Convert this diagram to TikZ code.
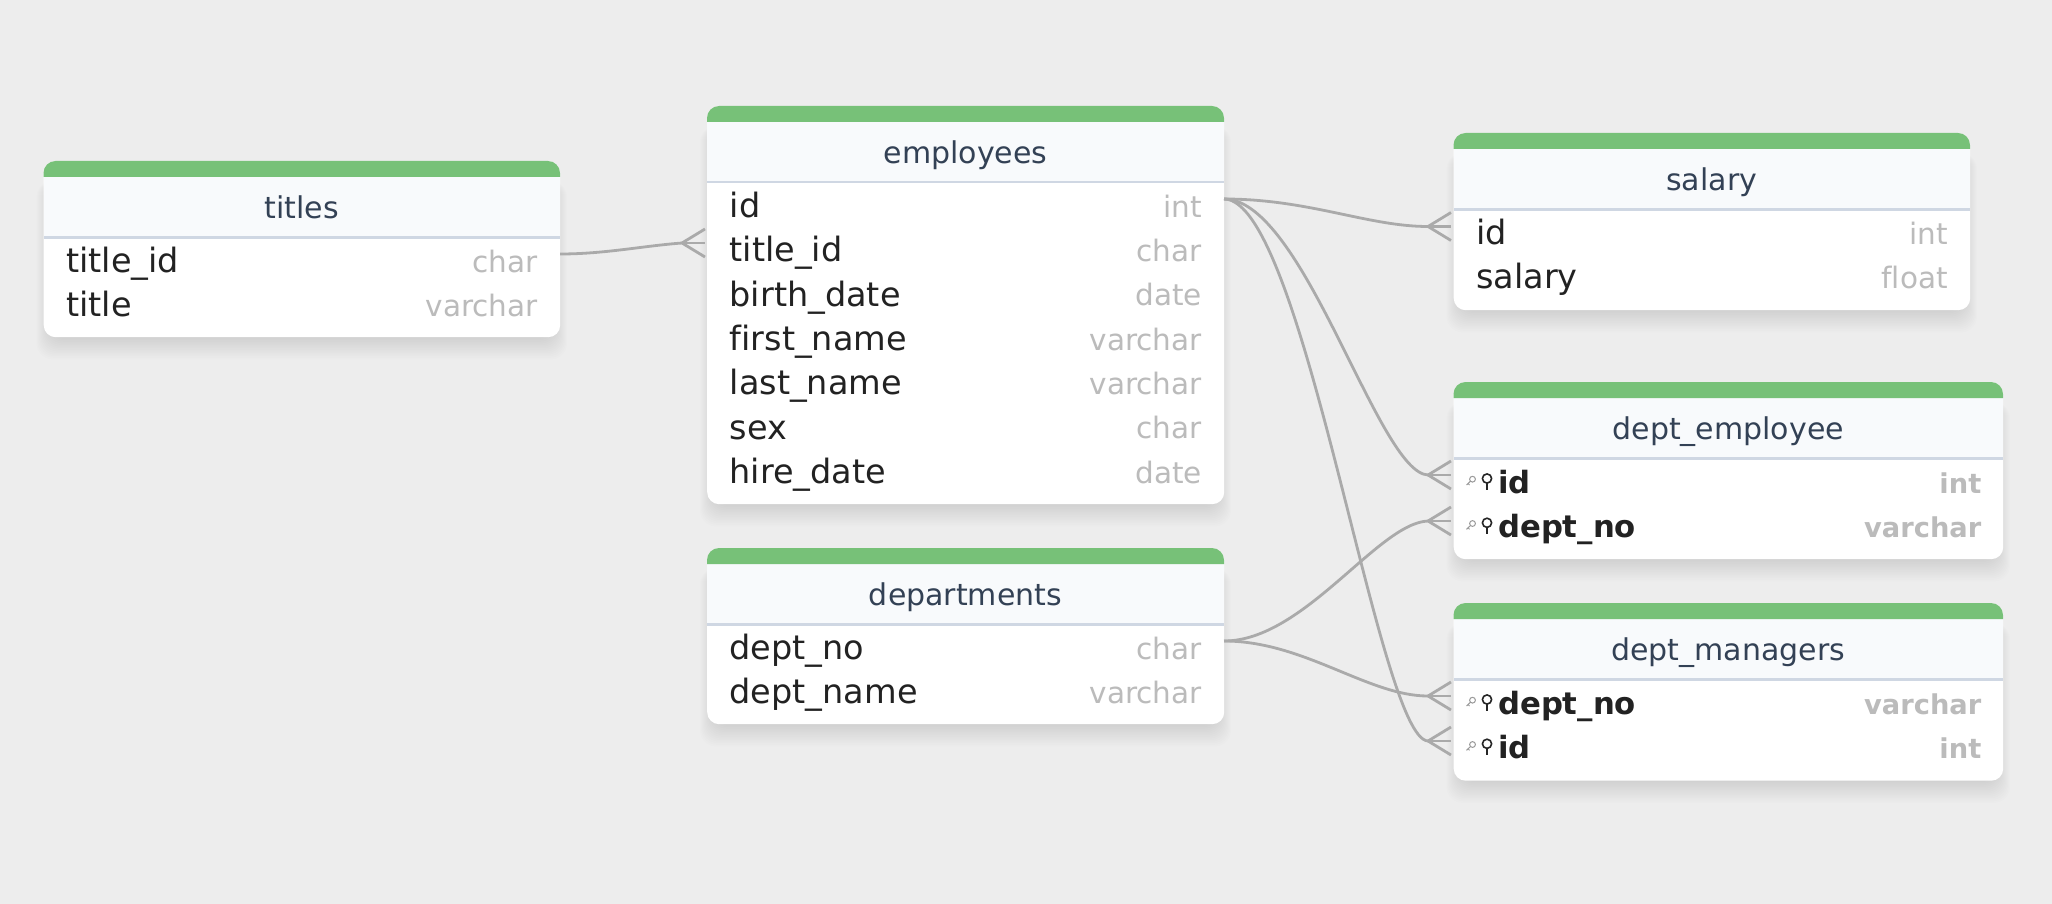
\documentclass[tikz,border=0pt]{standalone}
\usepackage{fontspec}
\setmainfont{DejaVu Sans}[Ligatures=NoCommon]
\definecolor{bgc}{HTML}{EDEDED}
\definecolor{barc}{HTML}{77C178}
\definecolor{headc}{HTML}{F8FAFC}
\definecolor{rulec}{HTML}{CFD7E3}
\definecolor{namec}{HTML}{334155}
\definecolor{fieldc}{HTML}{222222}
\definecolor{typec}{HTML}{BBBBBB}
\definecolor{linkc}{HTML}{AAAAAA}
\tikzset{
  tablebox/.style={fill=white,rounded corners=12pt,inner sep=0pt,anchor=north west},
  tabletitle/.style={font=\fontsize{30}{32}\selectfont,text=namec,anchor=base,inner sep=0pt},
  fieldname/.style={font=\fontsize{33.5}{36}\selectfont,text=fieldc,anchor=base west,inner sep=0pt},
  fieldtype/.style={font=\fontsize{29.5}{32}\selectfont,text=typec,anchor=base east,inner sep=0pt},
  keyname/.style={font=\fontsize{30.7}{36}\selectfont\bfseries,text=fieldc,anchor=base west,inner sep=0pt},
  keytype/.style={font=\fontsize{27.3}{32}\selectfont\bfseries,text=typec,anchor=base east,inner sep=0pt},
  link/.style={draw=linkc,line width=2.8pt},
  foot/.style={draw=linkc,line width=2.8pt},
}
% id, left, top, width, height, title
\newcommand{\dbtable}[6]{%
  \foreach \k in {1,...,14}{
    \fill[black,opacity=0.008,rounded corners=16pt]
      ({#2+7-\k},{#3+20}) rectangle ({#2+#4-7+\k},{#3+#5+1.6*\k});
  }
  \node[tablebox,minimum width=#4pt,minimum height=#5pt] (#1) at (#2,#3) {};
  \fill[headc] ({#2},{#3+16}) rectangle ({#2+#4},{#3+75});
  \fill[barc,rounded corners=12pt] ({#2},{#3+16}) -- ({#2},{#3}) -- ({#2+#4},{#3}) [sharp corners] -- ({#2+#4},{#3+16}) -- cycle;
  \fill[rulec] ({#2},{#3+75}) rectangle ({#2+#4},{#3+77.5});
  \node[tabletitle] (#1-title) at ({#2+#4/2},{#3+57.8}) {#6};
}
\newcommand{\dbrow}[6]{%
  \node[fieldname] (#1-#2-n) at ({#3+22.5},{#5+111.6+44.3*(#2-1)}) {#6};
}
\newcommand{\dbtype}[6]{%
  \node[fieldtype] (#1-#2-t) at ({#4-22},{#5+111.2+44.3*(#2-1)}) {#6};
}
\newcommand{\dbkeyrow}[7]{%
  \node[keyname] (#1-#2-n) at ({#3+44.5},{#5+111+44.3*(#2-1)}) {#6};
  \node[keytype] (#1-#2-t) at ({#4-21.5},{#5+111+44.3*(#2-1)}) {#7};
  \begin{scope}[shift={({#3+33.5},{#5+96.5+44.3*(#2-1)})}]
    \draw[black!85,line width=1.6pt] (0,0) circle (4.6pt);
    \draw[black!85,line width=1.6pt] (0,4.6) -- (0,11);
    \draw[black!40,line width=1pt] (-14.5,0.7) circle (2.9pt);
    \draw[black!40,line width=1pt] (-16.5,2.7) -- (-20.5,6.5) (-19,5) -- (-17.5,6.5);
  \end{scope}
}
\newcommand{\crowfoot}[1]{%
  \draw[foot] (#1) -- ++(23,0);
  \draw[foot] (#1) -- ++(23,-14);
  \draw[foot] (#1) -- ++(23,14);
}
\begin{document}
\begin{tikzpicture}[x=1pt,y=-1pt]
\fill[bgc] (0,0) rectangle (2052,904);
\useasboundingbox (0,0) rectangle (2052,904);
\dbtable{titles}{43.5}{161}{516.5}{176}{titles}
\dbtable{employees}{707}{106}{517}{398}{employees}
\dbtable{departments}{707}{548}{517}{176}{departments}
\dbtable{salary}{1453.5}{133}{516.5}{177}{salary}
\dbtable{deptemp}{1453.5}{382}{549.5}{177}{dept\_employee}
\dbtable{deptmgr}{1453.5}{603}{549.5}{177.5}{dept\_managers}

\dbrow{titles}{1}{43.5}{560}{161}{title\_id}
\dbtype{titles}{1}{43.5}{560}{161}{char}
\dbrow{titles}{2}{43.5}{560}{161}{title}
\dbtype{titles}{2}{43.5}{560}{161}{varchar}

\dbrow{employees}{1}{707}{1224}{106}{id}
\dbtype{employees}{1}{707}{1224}{106}{int}
\dbrow{employees}{2}{707}{1224}{106}{title\_id}
\dbtype{employees}{2}{707}{1224}{106}{char}
\dbrow{employees}{3}{707}{1224}{106}{birth\_date}
\dbtype{employees}{3}{707}{1224}{106}{date}
\dbrow{employees}{4}{707}{1224}{106}{first\_name}
\dbtype{employees}{4}{707}{1224}{106}{varchar}
\dbrow{employees}{5}{707}{1224}{106}{last\_name}
\dbtype{employees}{5}{707}{1224}{106}{varchar}
\dbrow{employees}{6}{707}{1224}{106}{sex}
\dbtype{employees}{6}{707}{1224}{106}{char}
\dbrow{employees}{7}{707}{1224}{106}{hire\_date}
\dbtype{employees}{7}{707}{1224}{106}{date}

\dbrow{departments}{1}{707}{1224}{548}{dept\_no}
\dbtype{departments}{1}{707}{1224}{548}{char}
\dbrow{departments}{2}{707}{1224}{548}{dept\_name}
\dbtype{departments}{2}{707}{1224}{548}{varchar}

\dbrow{salary}{1}{1453.5}{1970}{133}{id}
\dbtype{salary}{1}{1453.5}{1970}{133}{int}
\dbrow{salary}{2}{1453.5}{1970}{133}{salary}
\dbtype{salary}{2}{1453.5}{1970}{133}{float}

\dbkeyrow{deptemp}{1}{1453.5}{2003}{382}{id}{int}
\dbkeyrow{deptemp}{2}{1453.5}{2003}{382}{dept\_no}{varchar}
\dbkeyrow{deptmgr}{1}{1453.5}{2003}{603}{dept\_no}{varchar}
\dbkeyrow{deptmgr}{2}{1453.5}{2003}{603}{id}{int}

% connector anchors
\coordinate (a1) at (560,254);
\coordinate (a2) at (682,243);
\coordinate (b0) at (1224,199);
\coordinate (b1) at (1428,226.5);
\coordinate (b2) at (1428,475);
\coordinate (b3) at (1428,741);
\coordinate (c0) at (1224,641);
\coordinate (c1) at (1428,521);
\coordinate (c2) at (1428,696);

\draw[link] (a1) .. controls +(45,0) and +(-40,3) .. (a2);
\draw[link] (b0) .. controls +(85,0) and +(-60,0) .. (b1);
\draw[link] (b0) .. controls +(80,0) and +(-50,-2) .. (b2);
\draw[link] (b0) .. controls +(80,0) and +(-50,-2) .. (b3);
\draw[link] (c0) .. controls +(80,0) and +(-50,2) .. (c1);
\draw[link] (c0) .. controls +(80,0) and +(-60,0) .. (c2);
\crowfoot{a2}\crowfoot{b1}\crowfoot{b2}\crowfoot{b3}\crowfoot{c1}\crowfoot{c2}
\end{tikzpicture}
\end{document}
